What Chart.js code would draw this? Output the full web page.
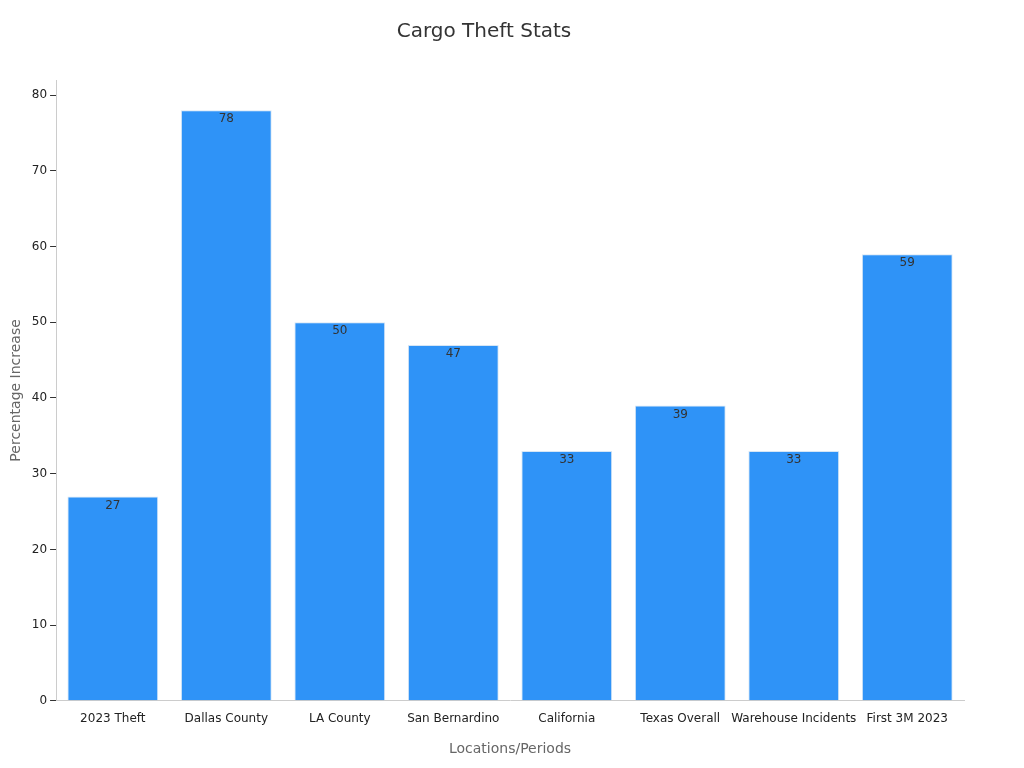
<!DOCTYPE html>
<html>
<head>
<meta charset="utf-8">
<script src="https://cdn.jsdelivr.net/npm/chart.js@4"></script>
<style>
  html, body { margin: 0; padding: 0; background: #fff; }
  #wrap { width: 1024px; height: 768px; }
</style>
</head>
<body>
<div id="wrap"><canvas id="chart"></canvas></div>
<script>
// datos del gráfico
const categorias = ['2023 Theft', 'Dallas County', 'LA County', 'San Bernardino', 'California', 'Texas Overall', 'Warehouse Incidents', 'First 3M 2023'];
const valores = [27, 78, 50, 47, 33, 39, 33, 59];

Chart.defaults.font.family = 'DejaVu Sans';

// etiquetas dentro de la parte superior de cada barra
const etiquetasBarras = {
  id: 'etiquetasBarras',
  afterDatasetsDraw(chart) {
    const ctx = chart.ctx;
    const meta = chart.getDatasetMeta(0);
    ctx.save();
    ctx.font = '12px DejaVu Sans';
    ctx.fillStyle = '#333';
    ctx.textAlign = 'center';
    ctx.textBaseline = 'top';
    meta.data.forEach((bar, i) => {
      ctx.fillText(valores[i], bar.x, bar.y + 3);
    });
    ctx.restore();
  }
};

new Chart(document.getElementById('chart'), {
  type: 'bar',
  data: {
    labels: categorias,
    datasets: [{
      data: valores,
      backgroundColor: '#2f93f7',
      borderColor: '#d6e6f5',
      borderWidth: 1,
      categoryPercentage: 0.8,
      barPercentage: 1
    }]
  },
  options: {
    responsive: true,
    maintainAspectRatio: false,
    animation: false,
    layout: { padding: { left: 4, right: 60, top: 10, bottom: 6 } },
    plugins: {
      legend: { display: false },
      tooltip: { enabled: false },
      title: {
        display: true,
        text: 'Cargo Theft Stats',
        color: '#333',
        font: { size: 20, weight: 'normal' },
        padding: { top: 10, bottom: 36 }
      }
    },
    scales: {
      x: {
        grid: { display: false },
        border: { color: '#ccc' },
        ticks: { color: '#222', font: { size: 12 }, maxRotation: 0, autoSkip: false },
        title: { display: true, text: 'Locations/Periods', color: '#666', font: { size: 14 }, padding: { top: 12 } }
      },
      y: {
        min: 0,
        max: 82,
        afterBuildTicks: (axis) => { axis.ticks = axis.ticks.filter(t => t.value % 10 === 0); },
        grid: { display: true, drawOnChartArea: false, drawTicks: true, tickLength: 6, tickColor: '#333' },
        border: { color: '#ccc' },
        ticks: { stepSize: 10, color: '#222', font: { size: 12 } },
        title: { display: true, text: 'Percentage Increase', color: '#666', font: { size: 14 } }
      }
    }
  },
  plugins: [etiquetasBarras]
});
</script>
</body>
</html>
